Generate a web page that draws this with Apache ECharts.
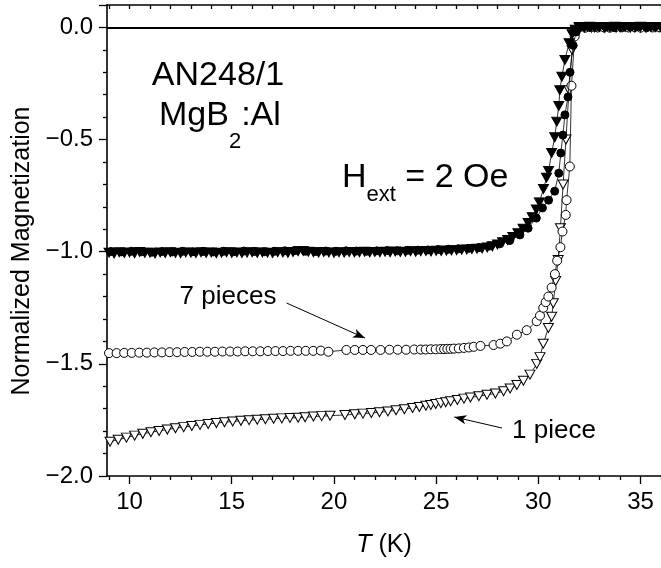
<!DOCTYPE html>
<html>
<head>
<meta charset="utf-8">
<script src="https://cdn.jsdelivr.net/npm/echarts@6/dist/echarts.min.js"></script>
<style>
html, body { margin: 0; padding: 0; background: #ffffff; }
#chart { width: 661px; height: 568px; }
</style>
</head>
<body>
<div id="chart"></div>
<script>
// Temperature (K) and normalized magnetization for each curve.

// 1 piece, normalized (filled down-triangles)
const onePieceNormT = [9.0,9.25,9.5,9.75,10.0,10.25,10.5,10.75,11.0,11.25,11.5,11.75,12.0,12.25,12.5,12.75,13.0,13.25,13.5,13.75,14.0,14.25,14.5,14.75,15.0,15.25,15.5,15.75,16.0,16.25,16.5,16.75,17.0,17.25,17.5,17.75,18.0,18.25,18.5,18.75,19.0,19.25,19.5,19.75,20.0,20.25,20.5,20.75,21.0,21.25,21.5,21.75,22.0,22.25,22.5,22.75,23.0,23.25,23.5,23.75,24.0,24.25,24.5,24.75,25.0,25.25,25.5,25.75,26.0,26.25,26.5,26.75,27.0,
  27.25,27.5,27.75,28.0,28.25,28.5,28.75,29.0,29.25,29.5,29.7,29.9,30.05,30.25,30.4,30.5,30.65,30.8,30.9,31.0,31.05,31.15,31.3,31.5,31.65,31.8,
  32.0,32.25,32.5,32.75,33.0,33.25,33.5,33.75,34.0,34.25,34.5,34.75,35.0,35.25,35.5,35.75,36.0];
const onePieceNormM = [-1.004,-1.008,-1.002,-1.006,-1.003,-1.007,-1.001,-1.005,-1.004,-1.008,
  -1.003,-1.006,-1.002,-1.005,-1.007,-1.003,-1.004,-1.006,-1.002,-1.005,
  -1.003,-1.007,-1.004,-1.002,-1.005,-1.003,-1.006,-1.004,-1.002,-1.005,
  -1.003,-1.004,-1.006,-1.002,-1.003,-1.005,-1.001,-0.998,-0.997,-1.000,
  -1.002,-1.004,-1.001,-1.003,-1.005,-1.002,-1.004,-1.001,-1.003,-1.002,
  -1.000,-1.003,-1.001,-1.002,-1.000,-1.002,-0.999,-1.001,-1.000,-0.998,
  -1.000,-0.998,-0.997,-0.999,-0.996,-0.997,-0.995,-0.994,-0.993,-0.991,
  -0.990,-0.988,-0.987,
  -0.985,-0.981,-0.976,-0.968,-0.958,-0.948,-0.934,-0.918,-0.898,-0.872,-0.846,-0.812,-0.78,-0.72,-0.67,-0.64,-0.56,-0.49,-0.42,-0.35,-0.28,-0.22,-0.145,-0.07,-0.03,-0.01,
  0.002,-0.001,0.003,0.0,0.002,-0.002,0.001,0.003,0.0,0.002,-0.001,0.001,0.003,0.0,0.002,0.001,0.0];

// 7 pieces, normalized (filled circles)
const sevenPiecesNormT = [9.1,9.6,10.1,10.6,11.1,11.6,12.1,12.6,13.1,13.6,14.1,14.6,15.1,15.6,16.1,16.6,17.1,17.6,18.1,18.6,19.1,19.6,20.1,20.6,21.1,21.6,22.1,22.6,23.1,23.6,24.1,24.6,25.1,25.6,26.1,26.6,
  27.1,27.6,28.1,28.6,29.1,29.5,29.9,30.2,30.5,30.8,31.0,31.1,31.2,31.3,31.45,31.55,31.7,31.85,
  32.1,32.5,32.9,33.3,33.7,34.1,34.5,34.9,35.3,35.7];
const sevenPiecesNormM = [-0.999,-1.001,-0.998,-1.000,-1.002,-0.999,-1.001,-0.998,-1.000,-0.999,
  -1.001,-0.998,-1.000,-0.997,-0.999,-1.000,-0.998,-0.996,-0.995,-0.998,
  -0.999,-0.997,-0.998,-0.996,-0.997,-0.998,-0.996,-0.995,-0.996,-0.994,
  -0.993,-0.992,-0.990,-0.989,-0.987,-0.985,
  -0.982,-0.975,-0.965,-0.95,-0.925,-0.895,-0.85,-0.805,-0.77,-0.73,-0.65,-0.56,-0.48,-0.39,-0.31,-0.2,-0.08,-0.02,
  0.003,0.001,0.004,0.002,0.0,0.003,0.002,0.004,0.001,0.003];

// 7 pieces (open circles)
const sevenPiecesT = [9.0,9.37,9.74,10.11,10.48,10.85,11.22,11.59,11.96,12.33,12.7,13.07,13.44,13.81,14.18,14.55,14.92,15.29,15.66,16.03,16.4,16.77,17.14,17.51,17.88,18.25,18.62,18.99,19.36,19.73,
  20.61,21.02,21.42,21.82,22.28,22.72,23.12,23.53,23.93,24.25,24.49,24.74,24.98,25.22,25.39,25.55,25.71,25.87,26.11,26.36,26.6,26.84,27.17,27.81,28.14,28.46,28.95,29.43,29.92,30.08,30.24,30.36,30.49,30.65,30.81,30.92,31.08,31.18,31.34,31.38,31.54,31.62,31.78,
  32.0,32.3,32.6,32.9,33.2,33.5,33.8,34.1,34.4,34.7,35.0,35.3,35.6,35.9];
const sevenPiecesM = [-1.452,-1.452,-1.451,-1.451,-1.450,-1.450,-1.449,-1.449,-1.448,-1.448,-1.447,-1.447,-1.446,-1.446,-1.446,-1.445,-1.445,-1.445,-1.444,-1.444,-1.444,-1.443,-1.443,-1.443,-1.442,-1.442,-1.442,-1.442,-1.441,-1.446,
  -1.438,-1.438,-1.438,-1.438,-1.438,-1.437,-1.437,-1.437,-1.436,-1.436,-1.436,-1.435,-1.435,-1.434,-1.434,-1.433,-1.433,-1.432,-1.431,-1.429,-1.427,-1.424,-1.42,-1.416,-1.41,-1.40,-1.37,-1.35,-1.31,-1.285,-1.25,-1.225,-1.20,-1.16,-1.10,-1.04,-0.98,-0.91,-0.836,-0.77,-0.62,-0.26,-0.04,
  0.001,-0.001,0.002,0.0,0.001,-0.001,0.002,0.001,0.0,0.002,-0.001,0.001,0.0,0.002];

// 1 piece (open down-triangles)
const onePieceT = [9.05,9.45,9.85,10.25,10.65,11.05,11.45,11.85,12.25,12.65,13.05,13.45,13.85,14.25,14.65,15.05,15.45,15.85,16.25,16.65,17.05,17.45,17.85,18.25,
  18.59,19.0,19.4,19.81,20.54,21.02,21.42,21.83,22.23,22.64,23.04,23.45,23.85,24.18,24.5,24.74,24.98,25.23,25.47,25.71,26.04,26.36,26.68,27.09,27.49,27.9,28.3,28.62,28.95,29.27,29.59,29.92,
  30.08,30.24,30.49,30.65,30.73,30.85,30.97,31.08,31.21,31.35,31.5,31.65,31.8,
  32.0,32.3,32.6,32.9,33.2,33.5,33.8,34.1,34.4,34.7,35.0,35.3,35.6,35.9];
const onePieceM = [-1.847,-1.838,-1.829,-1.82,-1.812,-1.805,-1.799,-1.793,-1.787,-1.782,-1.777,-1.772,-1.768,-1.764,-1.76,-1.757,-1.754,-1.751,-1.749,-1.747,-1.745,-1.743,-1.741,-1.74,
  -1.738,-1.735,-1.733,-1.731,-1.728,-1.725,-1.722,-1.719,-1.716,-1.712,-1.707,-1.702,-1.697,-1.692,-1.687,-1.683,-1.679,-1.675,-1.671,-1.667,-1.661,-1.655,-1.65,-1.644,-1.638,-1.632,-1.622,-1.61,-1.594,-1.575,-1.548,-1.50,
  -1.47,-1.41,-1.34,-1.29,-1.23,-1.13,-1.037,-0.895,-0.70,-0.50,-0.28,-0.1,-0.02,
  0.0,0.002,-0.001,0.001,0.0,0.002,-0.001,0.001,0.002,0.0,-0.001,0.001,0.002,0.0];

// Axis ticks
const xMajorTicks = [10, 15, 20, 25, 30, 35];
const xMinorTicks = [9, 11, 12, 13, 14, 16, 17, 18, 19, 21, 22, 23, 24, 26, 27, 28, 29, 31, 32, 33, 34, 36];
const xAllTicks = [9, 10, 11, 12, 13, 14, 15, 16, 17, 18, 19, 20, 21, 22, 23, 24, 25, 26, 27, 28, 29, 30, 31, 32, 33, 34, 35, 36];

// Annotation arrows: [tail, head] in (T, M)
const arrowSeven = [[17.69, -1.229], [21.52, -1.385]];
const arrowOne = [[28.22, -1.786], [25.89, -1.737]];

const FONT = '"Liberation Sans", Arial, Helvetica, sans-serif';
const pairs = (xs, ys) => xs.map((x, i) => [x, ys[i]]);

const chart = echarts.init(document.getElementById('chart'), null, { renderer: 'canvas' });

const gridLeft = 107, gridTop = 5, gridW = 558, gridH = 471;

// text measurement for subscript placement
const mctx = document.createElement('canvas').getContext('2d');
function tw(text, size) { mctx.font = size + 'px ' + FONT; return mctx.measureText(text).width; }

const bigSize = 34, subSize = 22, labelSize = 26;

function textEl(text, x, y, size, align, vAlign, extra) {
  return Object.assign({
    type: 'text', x: x, y: y, z: 100,
    style: { text: text, fontFamily: FONT, fontSize: size, fill: '#000', align: align || 'left', verticalAlign: vAlign || 'middle' }
  }, extra || {});
}

// "MgB2:Al"
const mgX = 159, mgY = 116;
const mgW = tw('MgB', bigSize), subW2 = tw('2', subSize);
// "Hext = 2 Oe"
const hX = 342, hY = 178;
const hW = tw('H', bigSize), extW = tw('ext', subSize);

const graphics = [
  textEl('AN248/1', 218, 76, bigSize, 'center'),
  textEl('MgB', mgX, mgY, bigSize),
  textEl('2', mgX + mgW, mgY + 26, subSize),
  textEl(':Al', mgX + mgW + subW2, mgY, bigSize),
  textEl('H', hX, hY, bigSize),
  textEl('ext', hX + hW, hY + 17, subSize),
  textEl(' = 2 Oe', hX + hW + extW, hY, bigSize),
  textEl('7 pieces', 228, 297, labelSize, 'center'),
  textEl('1 piece', 512, 431, labelSize, 'left'),
  textEl('Normalized Magnetization', 22, 251, 25, 'center', 'middle', { rotation: Math.PI / 2 })
];

function lineSeries(name, data, symbol, size, filled, rotate, z) {
  return {
    name: name,
    type: 'line',
    data: data,
    symbol: symbol,
    symbolSize: size,
    symbolRotate: rotate || 0,
    showAllSymbol: true,
    animation: false,
    z: z,
    lineStyle: { color: '#000', width: 0.8 },
    itemStyle: { color: filled ? '#000' : '#fff', borderColor: '#000', borderWidth: 1 },
    emphasis: { disabled: true }
  };
}

const seriesList = [
  lineSeries('1 piece', pairs(onePieceT, onePieceM), 'triangle', [10, 9], false, 180, 2),
  lineSeries('7 pieces', pairs(sevenPiecesT, sevenPiecesM), 'circle', 9, false, 0, 3),
  lineSeries('1 piece normalized', pairs(onePieceNormT, onePieceNormM), 'triangle', [10, 9], true, 180, 4),
  lineSeries('7 pieces normalized', pairs(sevenPiecesNormT, sevenPiecesNormM), 'circle', 8, true, 0, 5)
];

// zero reference line and annotation arrows
seriesList.push({
  type: 'line', data: [], z: 6, animation: false,
  markLine: {
    silent: true,
    animation: false,
    symbol: ['none', 'none'],
    label: { show: false },
    lineStyle: { color: '#000', width: 2, type: 'solid' },
    data: [{ yAxis: 0 }]
  }
});
seriesList.push({
  type: 'line', data: [], z: 7, animation: false,
  markLine: {
    silent: true,
    animation: false,
    symbol: ['none', 'arrow'],
    symbolSize: [7, 12],
    label: { show: false },
    lineStyle: { color: '#000', width: 1, type: 'solid' },
    data: [
      [{ coord: arrowSeven[0] }, { coord: arrowSeven[1] }],
      [{ coord: arrowOne[0] }, { coord: arrowOne[1] }]
    ]
  }
});

const axisLineStyle = { color: '#000', width: 1.6 };
const tickLine = { color: '#000', width: 1.3 };

const option = {
  backgroundColor: '#ffffff',
  animation: false,
  grid: { left: gridLeft, top: gridTop, width: gridW, height: gridH, containLabel: false },
  xAxis: [
    {
      type: 'value', position: 'bottom', min: 8.9, max: 36,
      name: '{i|T} (K)', nameLocation: 'middle', nameGap: 57,
      nameTextStyle: { fontFamily: FONT, fontSize: 25, color: '#000',
        rich: { i: { fontFamily: FONT, fontSize: 25, fontStyle: 'italic', color: '#000' } } },
      axisLine: { show: true, onZero: false, lineStyle: axisLineStyle },
      axisTick: { show: true, inside: false, length: 8, customValues: xMajorTicks, lineStyle: tickLine },
      axisLabel: { show: true, customValues: xMajorTicks, margin: 14, fontFamily: FONT, fontSize: 24, color: '#000' },
      splitLine: { show: false }
    },
    {
      type: 'value', position: 'bottom', min: 8.9, max: 36, offset: 0,
      axisLine: { show: false, onZero: false },
      axisTick: { show: true, inside: false, length: 4, customValues: xMinorTicks, lineStyle: tickLine },
      axisLabel: { show: false },
      splitLine: { show: false }
    },
    {
      type: 'value', position: 'top', min: 8.9, max: 36,
      axisLine: { show: true, onZero: false, lineStyle: axisLineStyle },
      axisTick: { show: true, inside: true, length: 4, customValues: xAllTicks, lineStyle: tickLine },
      axisLabel: { show: false },
      splitLine: { show: false }
    }
  ],
  yAxis: [
    {
      type: 'value', min: -2, max: 0.1, interval: 0.5,
      axisLine: { show: true, onZero: false, lineStyle: axisLineStyle },
      axisTick: { show: true, inside: false, length: 8, lineStyle: tickLine },
      minorTick: { show: true, splitNumber: 5, length: 4, lineStyle: tickLine },
      axisLabel: { margin: 14, fontFamily: FONT, fontSize: 24, color: '#000',
        formatter: v => (v < 0 ? '\u2212' : '') + Math.abs(v).toFixed(1) },
      splitLine: { show: false },
      minorSplitLine: { show: false }
    }
  ],
  series: seriesList,
  graphic: graphics
};

chart.setOption(option);
</script>
</body>
</html>
